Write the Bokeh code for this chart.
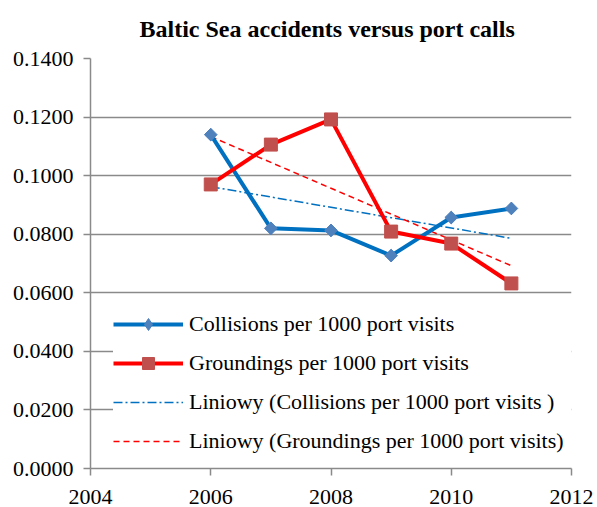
import numpy as np
from bokeh.plotting import figure
from bokeh.models import Range1d, FixedTicker, NumeralTickFormatter, Legend, LegendItem
from bokeh.embed import file_html
from bokeh.resources import INLINE

years = [2006, 2007, 2008, 2009, 2010, 2011]
collisions = [0.1140, 0.0820, 0.0813, 0.0727, 0.0857, 0.0888]
groundings = [0.0970, 0.1106, 0.1192, 0.0809, 0.0768, 0.0632]
x_ticks = [2004, 2006, 2008, 2010, 2012]
y_ticks = [0.0, 0.02, 0.04, 0.06, 0.08, 0.10, 0.12, 0.14]

title_text = "Baltic Sea accidents versus port calls"
label_c = "Collisions per 1000 port visits"
label_g = "Groundings per 1000 port visits"
label_tc = "Liniowy (Collisions per 1000 port visits )"
label_tg = "Liniowy (Groundings per 1000 port visits)"

FONT = "Liberation Serif"
GRAY = "#8a8a8a"

p = figure(width=597, height=507, output_backend="svg", toolbar_location=None,
           x_range=Range1d(2004, 2012), y_range=Range1d(0, 0.14),
           min_border_left=90, min_border_right=26, min_border_top=58, min_border_bottom=39)
p.outline_line_color = None
p.background_fill_color = "white"

p.title.text = title_text
p.title.align = "left"
p.title.offset = 49
p.title.text_font = FONT
p.title.text_font_size = "24px"
p.title.text_font_style = "bold"
p.title.text_color = "black"
p.title.vertical_align = "top"
p.title.standoff = 29

p.xgrid.visible = False
p.ygrid.ticker = FixedTicker(ticks=y_ticks)
p.ygrid.grid_line_color = GRAY
p.ygrid.grid_line_width = 1.5

p.xaxis.ticker = FixedTicker(ticks=x_ticks)
p.yaxis.ticker = FixedTicker(ticks=y_ticks)
p.yaxis.formatter = NumeralTickFormatter(format="0.0000")
for ax in (p.xaxis, p.yaxis):
    ax.axis_line_color = GRAY
    ax.axis_line_width = 1.5
    ax.major_tick_line_color = GRAY
    ax.major_tick_line_width = 1.5
    ax.major_tick_in = 0
    ax.major_tick_out = 7
    ax.minor_tick_line_color = None
    ax.major_label_text_font = FONT
    ax.major_label_text_font_size = "22px"
    ax.major_label_text_color = "black"
p.yaxis.major_label_standoff = 10
p.xaxis.major_label_standoff = 14
p.xaxis.major_label_text_line_height = 0.6

# trend lines (least squares from the data, as the spreadsheet does)
xs = np.array(years, dtype=float)
kc = np.polyfit(xs, collisions, 1)
kg = np.polyfit(xs, groundings, 1)
tc = p.line(years, list(np.polyval(kc, xs)), line_color="#0070C0", line_width=1.5, line_dash="9 3 2 3")
tg = p.line(years, list(np.polyval(kg, xs)), line_color="#FF0000", line_width=1.5, line_dash="6 4")

lc = p.line(years, collisions, line_color="#0070C0", line_width=4)
# diamond used by the legend; the rotated square drawn over it is what shows in the plot
dc = p.scatter(years, collisions, marker="diamond", size=12,
               fill_color="#4F81BD", line_color="#4F81BD")
mc = p.scatter(years, collisions, marker="square", angle=np.pi / 4, size=9,
               fill_color="#4F81BD", line_color="#4F81BD")
lg = p.line(years, groundings, line_color="#FF0000", line_width=4)
mg = p.scatter(years, groundings, marker="square", size=13,
               fill_color="#C0504D", line_color="#C0504D")

legend = Legend(items=[
    LegendItem(label=label_c, renderers=[lc, dc]),
    LegendItem(label=label_g, renderers=[lg, mg]),
    LegendItem(label=label_tc, renderers=[tc]),
    LegendItem(label=label_tg, renderers=[tg]),
], location=(23, 12))
legend.background_fill_color = "white"
legend.background_fill_alpha = 1.0
legend.border_line_color = None
legend.padding = 10
legend.margin = 0
legend.spacing = 9
legend.glyph_width = 70
legend.glyph_height = 30
legend.label_height = 30
legend.label_width = 385
legend.label_standoff = 6
legend.label_text_font = FONT
legend.label_text_font_size = "22px"
legend.label_text_color = "black"
p.add_layout(legend, "center")

open("out.html", "w").write(file_html(p, INLINE))
